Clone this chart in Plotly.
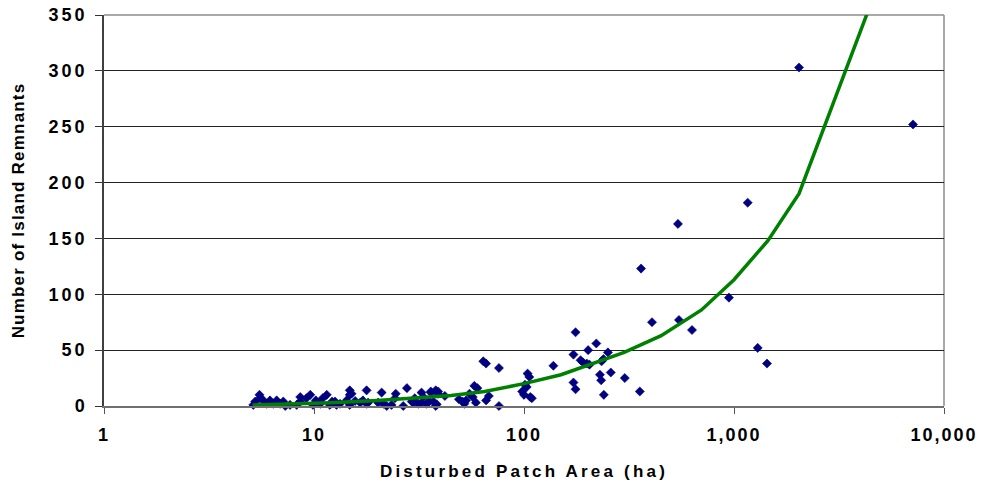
import plotly.graph_objects as go

# Observed data: disturbed patch area (ha) vs number of island remnants
area_ha = [
    2040, 7120, 1162, 541, 361, 946, 547, 407, 631, 1297, 1436, 356,
    176, 172, 202, 221, 251, 138, 186, 191, 199, 205, 234, 239, 259, 230, 233, 302, 172, 176, 240,
    104, 106, 101, 103, 98, 100, 107, 109,
    64, 66, 76, 66, 68, 76, 58, 60, 59, 55, 57, 49, 51, 52, 53, 42, 36, 38, 39, 37, 38,
    14.8, 14.8, 15.1, 17.8, 21, 24.5, 24.3, 27.7, 32.5, 33.2, 30.2, 36, 39, 26.6, 29.2, 32.5,
    35.4, 38.4, 21.4, 22.2, 17.1, 17.8, 14.3, 14.8, 15.7, 16.6, 18.1, 20.2, 23.4, 29.7, 31.3, 34.3, 12.6,
    5.5, 8.6, 9.6, 11.5, 8.6, 9.2, 11.0, 9.9, 10.7, 11.9, 12.8, 5.14, 5.25, 5.53, 5.74, 5.95, 6.17,
    6.4, 6.64, 6.9, 7.14, 7.3, 7.69, 8.27, 10.2, 12.2, 13.3,
]
remnants = [
    303, 252, 182, 163, 123, 97, 77, 75, 68, 52, 38, 13,
    66, 46, 50, 56, 48, 36, 41, 39, 38, 37, 40, 42, 30, 28, 23, 25, 21, 15, 10,
    29, 26, 19, 17, 13, 10, 8, 7,
    40, 38, 34, 5, 9, 0, 18, 16, 3, 11, 8, 6, 4, 2, 5, 9, 13, 14, 11, 4, 0,
    14, 10, 11, 14, 12, 11, 7, 16, 12, 8, 7, 12, 13, 0, 4, 3,
    4, 1.5, 2, 0, 5, 2, 5, 1, 4.5, 3, 3, 3, 1, 3, 2, 2, 4,
    10, 8, 10, 10, 4, 7, 7, 1, 2, 1, 1, 1, 4, 7, 5, 2, 5,
    2, 5, 2, 4, 0, 1, 1, 5, 4, 2,
]

# Trend line
trend_x = [5.1, 8, 12, 20, 30, 45, 65, 100, 150, 200, 300, 450, 700, 1000, 1450, 2040, 7120]
trend_y = [0.8, 1.8, 3, 5, 7, 9.5, 13, 20, 28, 36, 48, 63, 86, 113, 148, 190, 460]

x_tickvals = [1, 10, 100, 1000, 10000]
x_ticktext = ["1", "10", "100", "1,000", "10,000"]
y_tickvals = [0, 50, 100, 150, 200, 250, 300, 350]

FONT = "Liberation Sans"

fig = go.Figure()
fig.add_trace(go.Scatter(
    x=area_ha, y=remnants, mode="markers",
    marker=dict(symbol="diamond", size=7, color="#000080",
                line=dict(width=0.6, color="#000080")),
    showlegend=False, cliponaxis=False,
))
fig.add_trace(go.Scatter(
    x=trend_x, y=trend_y, mode="lines",
    line=dict(color="#008000", width=3.5),
    showlegend=False,
))

fig.update_layout(
    width=982, height=482,
    margin=dict(l=104, r=38, t=15, b=76),
    paper_bgcolor="white", plot_bgcolor="white",
    font=dict(family=FONT, color="black"),
    xaxis=dict(
        type="log", range=[0, 4], automargin=False,
        tickvals=x_tickvals, ticktext=x_ticktext,
        tickfont=dict(family=FONT, size=18, weight="bold", color="black"),
        ticks="outside", ticklen=6, tickcolor="#555555", tickwidth=1,
        ticklabelstandoff=5,
        showgrid=False, zeroline=False,
        showline=True, linecolor="#707070", linewidth=2,
        title=dict(text="Disturbed Patch Area (ha)",
                   font=dict(family=FONT, size=17, weight="bold", color="black"),
                   standoff=22),
    ),
    yaxis=dict(
        range=[0, 350], tickvals=y_tickvals, automargin=False,
        tickfont=dict(family=FONT, size=18, weight="bold", color="black"),
        ticks="outside", ticklen=7, tickcolor="#333333", tickwidth=1,
        ticklabelstandoff=4,
        showgrid=True, gridcolor="#222222", gridwidth=1,
        zeroline=False,
        showline=True, linecolor="#404040", linewidth=1.5,
        title=dict(text="Number of Island Remnants",
                   font=dict(family=FONT, size=17, weight="bold", color="black"),
                   standoff=29),
    ),
    shapes=[
        dict(type="line", xref="x domain", yref="y domain", x0=0, x1=1, y0=1, y1=1,
             line=dict(color="#8c8c8c", width=1.5), layer="below"),
        dict(type="line", xref="x domain", yref="y domain", x0=1, x1=1, y0=0, y1=1,
             line=dict(color="#8c8c8c", width=1.5), layer="below"),
    ],
)

post = """
var gd = document.getElementById('{plot_id}');
function spacing(){
  gd.querySelectorAll('.xtick text').forEach(function(t){ t.style.letterSpacing = '2px'; });
  gd.querySelectorAll('.ytick text').forEach(function(t){ t.style.letterSpacing = '3px'; });
  gd.querySelectorAll('.xtitle').forEach(function(t){ t.style.letterSpacing = '3.2px'; });
  gd.querySelectorAll('.ytitle').forEach(function(t){ t.style.letterSpacing = '1.2px'; });
}
spacing();
gd.on('plotly_afterplot', spacing);
"""

fig.write_html("out.html", post_script=post)
